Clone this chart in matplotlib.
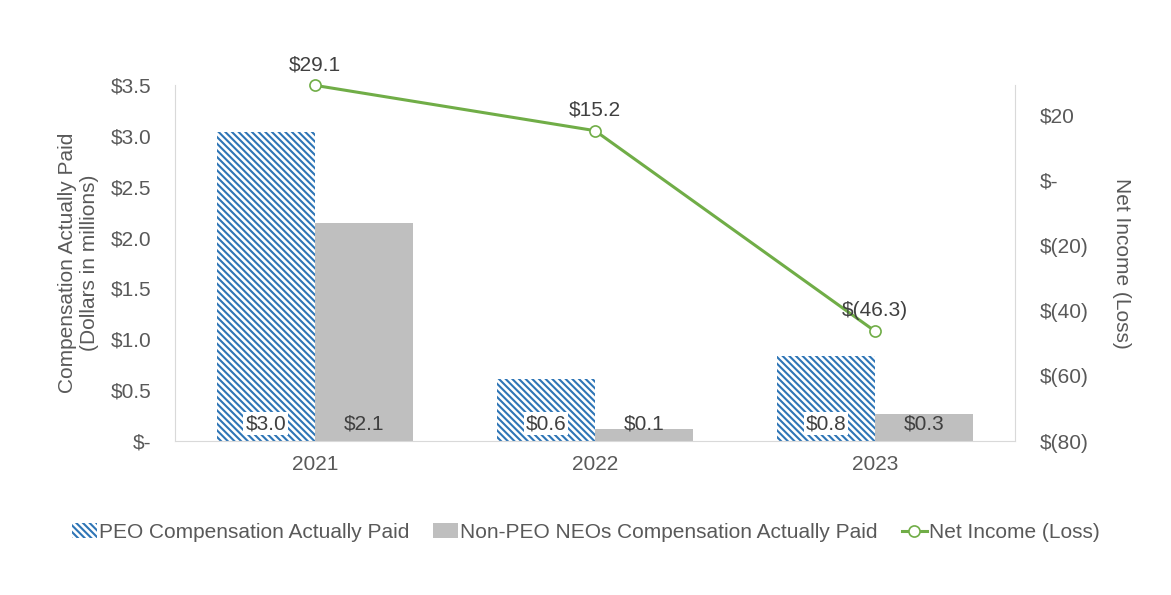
import matplotlib
matplotlib.use("Agg")
import matplotlib.pyplot as plt
import numpy as np

years = ["2021", "2022", "2023"]
peo = [3.04, 0.61, 0.84]
non_peo = [2.14, 0.12, 0.27]
net_income = [29.1, 15.2, -46.3]
peo_labels = ["$3.0", "$0.6", "$0.8"]
non_peo_labels = ["$2.1", "$0.1", "$0.3"]
ni_labels = ["$29.1", "$15.2", "$(46.3)"]
left_ticks = [0, 0.5, 1.0, 1.5, 2.0, 2.5, 3.0, 3.5]
left_ticklabels = ["$-", "$0.5", "$1.0", "$1.5", "$2.0", "$2.5", "$3.0", "$3.5"]
right_ticks = [-80, -60, -40, -20, 0, 20]
right_ticklabels = ["$(80)", "$(60)", "$(40)", "$(20)", "$-", "$20"]

plt.rcParams['font.family'] = ['Liberation Sans', 'DejaVu Sans']
plt.rcParams['hatch.linewidth'] = 1.5
plt.rcParams['hatch.color'] = '#2E75B6'

txt = '#595959'
dtxt = '#404040'
blue = '#2E75B6'
gray = '#BFBFBF'
green = '#70AD47'
spine = '#D9D9D9'
fs = 15

fig = plt.figure(figsize=(11.71, 5.95), dpi=100)
ax = fig.add_axes([0.1494, 0.2588, 0.7174, 0.5983])
x = np.arange(len(years))
w = 0.35
b1 = ax.bar(x - w/2, peo, w, facecolor='white', edgecolor=blue, hatch='\\\\\\\\\\', linewidth=0, label='PEO Compensation Actually Paid')
b2 = ax.bar(x + w/2, non_peo, w, color=gray, label='Non-PEO NEOs Compensation Actually Paid')
ax.set_xlim(-0.5, 2.5)
ax.set_ylim(0, 3.5)
ax.set_yticks(left_ticks)
ax.set_yticklabels(left_ticklabels)
ax.set_xticks(x)
ax.set_xticklabels(years)
ax.tick_params(length=0, labelsize=fs, colors=txt)
ax.tick_params(axis='y', pad=17)
ax.tick_params(axis='x', pad=10)
for s in ['top', 'right']:
    ax.spines[s].set_visible(False)
for s in ['left', 'bottom']:
    ax.spines[s].set_color(spine)
ax.set_ylabel("Compensation Actually Paid\n(Dollars in millions)", fontsize=fs, color=txt, labelpad=8,
              linespacing=1.25)

for i in range(len(years)):
    ax.text(x[i] - w/2, 0.17, peo_labels[i], ha='center', va='center', fontsize=fs, color=dtxt,
            bbox=dict(facecolor='white', edgecolor='none', pad=1.5))
    ax.text(x[i] + w/2, 0.17, non_peo_labels[i], ha='center', va='center', fontsize=fs, color=dtxt)

ax2 = ax.twinx()
ax2.set_ylim(-80, 29.2)
l, = ax2.plot(x, net_income, color=green, lw=2.2, marker='o', markersize=8,
              markerfacecolor='white', markeredgecolor=green, markeredgewidth=1.2, label='Net Income (Loss)',
              clip_on=False)
ax2.set_yticks(right_ticks)
ax2.set_yticklabels(right_ticklabels)
ax2.tick_params(length=0, labelsize=fs, colors=txt, pad=18)
for s in ['top', 'left', 'bottom']:
    ax2.spines[s].set_visible(False)
ax2.spines['right'].set_color(spine)
ax2.set_ylabel("Net Income (Loss)", fontsize=fs, color=txt, rotation=270, labelpad=30)
for i in range(len(years)):
    ax2.annotate(ni_labels[i], (x[i], net_income[i]), xytext=(0, 8), textcoords='offset points',
                 ha='center', va='bottom', fontsize=fs, color=dtxt)

fig.legend([b1, b2, l], [b1.get_label(), b2.get_label(), l.get_label()], loc='center',
           bbox_to_anchor=(0.5, 0.105), ncol=3, frameon=False, fontsize=fs,
           handlelength=1.2, handletextpad=0.1, columnspacing=1.15, labelcolor=txt)

fig.savefig("out.png", dpi=100)
